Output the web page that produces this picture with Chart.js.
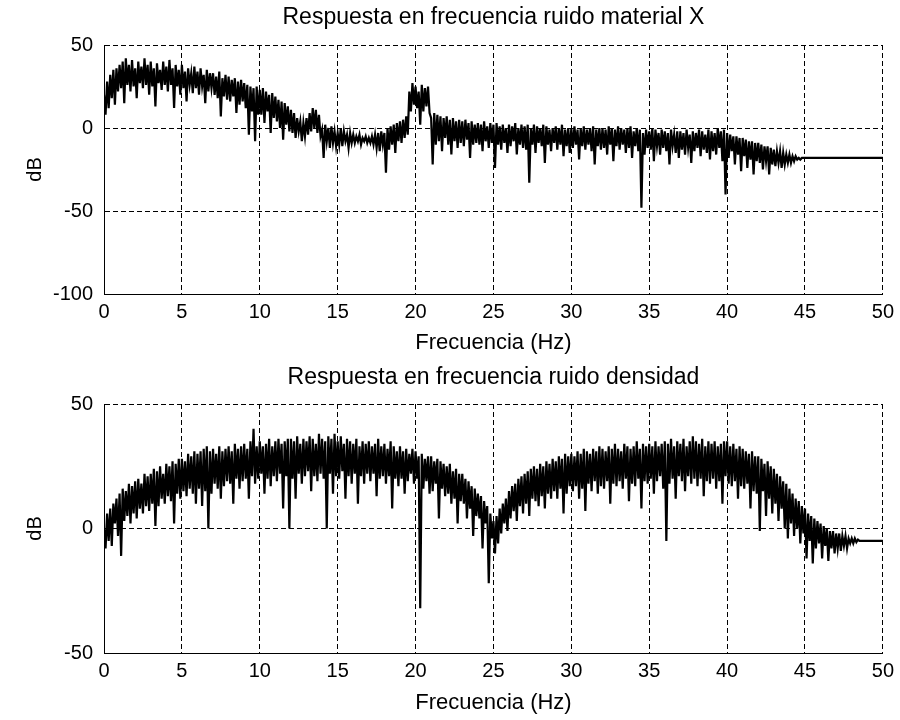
<!DOCTYPE html>
<html>
<head>
<meta charset="utf-8">
<script src="https://cdn.jsdelivr.net/npm/chart.js@4"></script>
<style>
  body { margin: 0; background: #fff; }
  canvas { display: block; }
</style>
</head>
<body>
<canvas id="material" width="900" height="360"></canvas>
<canvas id="densidad" width="900" height="360"></canvas>
<script>
// Hz entre muestras (una fila = 1 Hz)
const paso = 0.1;
const ticksFrecuencia = [0, 5, 10, 15, 20, 25, 30, 35, 40, 45, 50];
const ticksMaterial = [-100, -50, 0, 50];
const ticksDensidad = [-50, 0, 50];
const titulos = ['Respuesta en frecuencia ruido material X', 'Respuesta en frecuencia ruido densidad'];

// dB, 0 a 50 Hz
const dbMaterial = [
  20, 8, 28, 12, 32, 18, 35, 14, 36, 22,
  38, 24, 40, 15, 42, 26, 38, 22, 41, 25,
  36, 18, 40, 27, 37, 24, 42, 26, 38, 20,
  40, 25, 36, 13, 39, 27, 35, 23, 40, 26,
  37, 22, 41, 26, 36, 12, 38, 25, 35, 20,
  38, 24, 34, 16, 36, 26, 33, 21, 37, 24,
  34, 20, 36, 25, 32, 15, 35, 22, 33, 24,
  33, 20, 31, 18, 34, 7, 30, 19, 32, 17,
  31, 16, 29, 19, 30, 9, 28, 14, 29, 16,
  27, 12, 26, -4, 25, 10, 24, -8, 25, 8,
  23, 8, 24, 3, 22, 10, 20, -3, 21, 6,
  19, 4, 17, 0, 16, -7, 15, 2, 13, -2,
  11, -3, 9, -6, 6, -2, 4, -8, 3, -5,
  6, -4, 9, -2, 12, 0, 11, -3, 8, -5,
  -1, -18, 2, -8, 0, -12, 1, -9, -2, -11,
  -3, -10, 0, -11, -2, -8, -4, -12, -3, -9,
  -4, -9, -5, -8, -4, -10, -6, -8, -5, -9,
  -6, -9, -5, -10, -4, -12, -3, -14, -2, -10,
  -3, -27, 0, -13, 1, -10, 2, -15, 3, -8,
  4, -9, 5, -6, 7, -4, 22, 10, 27, 14,
  25, 12, 22, 2, 26, 10, 24, 13, 25, 9,
  6, -22, 9, -10, 8, -8, 7, -14, 6, -6,
  7, -10, 5, -16, 6, -8, 4, -12, 5, -9,
  4, -11, 5, -7, 3, -18, 4, -10, 2, -9,
  3, -10, 2, -14, 4, -8, 1, -12, 3, -9,
  2, -24, 3, -10, 1, -13, 2, -9, 0, -15,
  2, -11, 1, -8, 3, -16, 0, -10, 2, -12,
  1, -13, 2, -33, 0, -10, 2, -15, 1, -9,
  0, -11, 2, -21, 1, -10, -1, -14, 0, -9,
  1, -13, 0, -10, 2, -17, -1, -11, 0, -15,
  0, -12, 1, -10, -1, -19, 0, -11, 1, -13,
  -1, -10, 0, -14, 1, -22, -1, -11, 0, -13,
  0, -12, -1, -16, 1, -10, 0, -20, -1, -11,
  1, -13, 0, -10, -1, -15, 0, -12, 1, -18,
  -2, -11, 0, -14, -1, -48, -3, -16, -1, -12,
  -2, -13, 0, -20, -1, -11, -3, -16, -1, -12,
  -2, -14, -3, -22, -1, -11, -4, -15, -2, -18,
  -2, -13, -3, -16, -1, -12, -4, -21, -2, -14,
  -3, -12, -1, -17, -2, -13, -4, -15, -1, -19,
  -2, -14, -3, -16, 0, -12, -2, -20, -1, -40,
  -3, -18, -4, -14, -5, -22, -5, -16, -6, -26,
  -6, -17, -7, -24, -8, -19, -8, -28, -9, -20,
  -9, -21, -10, -25, -11, -20, -11, -28, -12, -22,
  -13, -23, -14, -21, -14, -24, -15, -22, -16, -21,
  -16, -21, -17, -20, -17, -19, -18, -19, -18, -18,
  -18, -18, -18, -18, -18, -18, -18, -18, -18, -18,
  -18, -18, -18, -18, -18, -18, -18, -18, -18, -18,
  -18, -18, -18, -18, -18, -18, -18, -18, -18, -18,
  -18, -18, -18, -18, -18, -18, -18, -18, -18, -18,
  -18, -18, -18, -18, -18, -18, -18, -18, -18, -18,
  -18
];

const dbDensidad = [
  0, -8, 6, -5, 8, -7, 10, 2, 12, -3,
  14, -11, 16, 3, 15, 5, 18, 2, 17, 6,
  19, 4, 20, 8, 18, 6, 22, 9, 21, 7,
  22, 10, 24, 1, 23, 9, 25, 12, 22, 10,
  26, 13, 25, 11, 27, 2, 26, 14, 28, 12,
  28, 15, 27, 13, 30, 16, 29, 14, 31, 10,
  30, 16, 31, 9, 32, 15, 33, 0, 31, 14,
  32, 18, 30, 16, 33, 12, 31, 17, 32, 19,
  33, 18, 31, 10, 34, 20, 32, 16, 33, 19,
  34, 20, 32, 12, 35, 21, 40, 18, 33, 20,
  35, 22, 33, 14, 34, 20, 36, 17, 33, 21,
  35, 19, 36, 22, 34, 8, 35, 21, 36, 0,
  36, 20, 35, 12, 37, 22, 34, 18, 36, 21,
  35, 23, 37, 15, 36, 21, 34, 19, 38, 22,
  36, 20, 35, 0, 37, 22, 36, 14, 38, 21,
  35, 20, 37, 23, 34, 12, 36, 21, 35, 18,
  34, 22, 36, 10, 33, 21, 35, 18, 34, 22,
  35, 19, 33, 22, 34, 13, 36, 20, 33, 21,
  34, 18, 32, 21, 35, 8, 33, 20, 31, 17,
  33, 20, 31, 14, 32, 19, 30, 22, 32, 18,
  31, 20, 29, -32, 30, 16, 28, 19, 29, 14,
  29, 15, 27, 18, 28, 4, 27, 16, 26, 13,
  25, 14, 26, 10, 23, 12, 24, 2, 22, 11,
  22, 10, 20, 4, 19, 8, 17, -3, 16, 5,
  14, 4, 13, -8, 11, 2, 9, -22, 6, -4,
  3, -10, 5, -6, 8, -2, 10, 2, 12, -1,
  15, 4, 17, 7, 18, 3, 20, 9, 21, 6,
  22, 10, 23, 5, 24, 12, 25, 11, 24, 9,
  26, 13, 25, 8, 27, 14, 26, 12, 28, 15,
  27, 12, 29, 16, 28, 6, 30, 14, 29, 17,
  30, 15, 29, 17, 31, 12, 30, 16, 32, 7,
  31, 18, 30, 15, 32, 19, 31, 14, 33, 17,
  32, 16, 31, 19, 33, 10, 32, 18, 34, 17,
  32, 19, 31, 16, 34, 20, 33, 11, 32, 18,
  33, 17, 35, 20, 32, 8, 34, 19, 33, 18,
  34, 20, 33, 14, 35, 19, 33, 21, 34, 16,
  35, -5, 34, 18, 36, 20, 33, 12, 35, 21,
  34, 19, 36, 15, 33, 21, 35, 18, 37, 20,
  35, 17, 34, 20, 36, 13, 33, 19, 35, 18,
  34, 20, 35, 16, 33, 19, 34, 10, 35, 21,
  35, 18, 33, 17, 34, 19, 32, 12, 33, 17,
  32, 16, 31, 18, 30, 8, 31, 15, 29, 14,
  29, -1, 28, 15, 26, 5, 27, 12, 25, 6,
  24, 10, 22, 3, 21, 8, 19, 0, 18, -4,
  16, 2, 14, -3, 12, 0, 11, -6, 9, -2,
  8, -12, 6, -5, 5, -14, 4, -8, 3, -6,
  2, -12, 1, -7, 0, -13, -1, -8, -1, -10,
  -2, -8, -2, -9, -3, -7, -3, -8, -4, -6,
  -4, -6, -4, -5.5, -4.5, -5, -5, -5, -5, -5,
  -5, -5, -5, -5, -5, -5, -5, -5, -5, -5,
  -5
];

const fuente = '"Liberation Sans", Arial, sans-serif';

function puntos(valores) {
  return valores.map((v, i) => ({ x: Math.round(i * paso * 10) / 10, y: v }));
}

function grafico(id, titulo, valores, ticksY, arriba, alturaX) {
  return new Chart(document.getElementById(id), {
    type: 'line',
    data: {
      datasets: [{
        data: puntos(valores),
        borderColor: '#000',
        borderWidth: 2.2,
        pointRadius: 0,
        tension: 0,
        fill: false
      }]
    },
    options: {
      responsive: false,
      animation: false,
      layout: { padding: { left: 0, right: 14, top: 0, bottom: 0 } },
      plugins: {
        legend: { display: false },
        tooltip: { enabled: false },
        title: {
          display: true,
          fullSize: false,
          text: titulo,
          color: '#000',
          font: { family: fuente, size: 23, weight: 'normal', lineHeight: 1.2 },
          padding: { top: 4, bottom: arriba - 4 - 27.6 }
        }
      },
      scales: {
        x: {
          type: 'linear',
          min: 0,
          max: 50,
          afterBuildTicks: s => { s.ticks = ticksFrecuencia.map(v => ({ value: v })); },
          afterFit: s => { s.height = alturaX; },
          grid: { color: '#000', lineWidth: 1, drawTicks: false, borderDash: [5, 3] },
          border: { color: '#000', width: 1, dash: [5, 3] },
          ticks: { color: '#000', font: { family: fuente, size: 20 }, padding: 6, maxRotation: 0, autoSkip: false },
          title: {
            display: true,
            text: 'Frecuencia (Hz)',
            color: '#000',
            font: { family: fuente, size: 22, lineHeight: 1.2 },
            padding: { top: 0, bottom: 4 }
          }
        },
        y: {
          min: ticksY[0],
          max: ticksY[ticksY.length - 1],
          afterBuildTicks: s => { s.ticks = ticksY.map(v => ({ value: v })); },
          afterFit: s => { s.width = 104; },
          grid: { color: '#000', lineWidth: 1, drawTicks: false, borderDash: [5, 3] },
          border: { color: '#000', width: 1, dash: [5, 3] },
          ticks: { color: '#000', font: { family: fuente, size: 20 }, padding: 11 },
          title: {
            display: true,
            text: 'dB',
            color: '#000',
            font: { family: fuente, size: 20, lineHeight: 1.2 },
            padding: { top: 23, bottom: 0 }
          }
        }
      }
    }
  });
}

grafico('material', titulos[0], dbMaterial, ticksMaterial, 45, 66);
grafico('densidad', titulos[1], dbDensidad, ticksDensidad, 44, 67);
</script>
</body>
</html>
